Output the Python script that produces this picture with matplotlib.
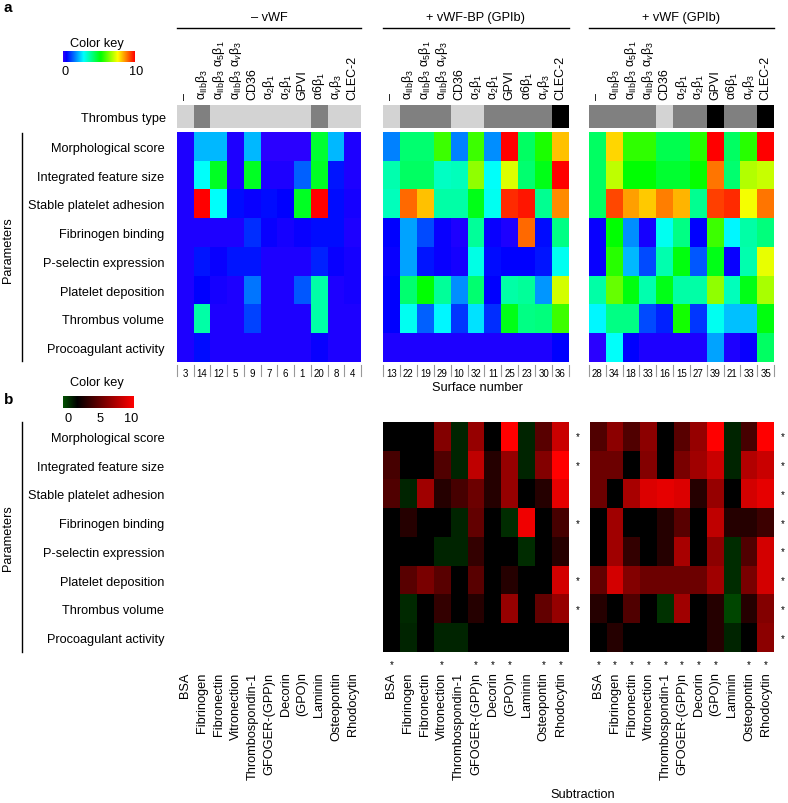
import matplotlib
matplotlib.use("Agg")
import matplotlib.pyplot as plt
import numpy as np
from matplotlib.colors import ListedColormap, LinearSegmentedColormap, hsv_to_rgb
from matplotlib.lines import Line2D

plt.rcParams["font.family"] = ["Liberation Sans", "DejaVu Sans"]
plt.rcParams["mathtext.fontset"] = "custom"
plt.rcParams["mathtext.rm"] = "Liberation Sans"
plt.rcParams["mathtext.it"] = "Liberation Sans:italic"
plt.rcParams["mathtext.bf"] = "Liberation Sans:bold"

# ---------------- data ----------------
params = ["Morphological score", "Integrated feature size", "Stable platelet adhesion",
          "Fibrinogen binding", "P-selectin expression", "Platelet deposition",
          "Thrombus volume", "Procoagulant activity"]
receptors = ["–", "α$_\\mathrm{IIb}$β$_3$", "α$_\\mathrm{IIb}$β$_3$ α$_5$β$_1$",
             "α$_\\mathrm{IIb}$β$_3$ α$_v$β$_3$", "CD36", "α$_2$β$_1$", "α$_2$β$_1$",
             "GPVI", "α6β$_1$", "α$_v$β$_3$", "CLEC-2"]
surfaces = ["BSA", "Fibrinogen", "Fibronectin", "Vitronection", "Thrombospondin-1",
            "GFOGER-(GPP)n", "Decorin", "(GPO)n", "Laminin", "Osteopontin", "Rhodocytin"]
headers = ["– vWF", "+ vWF-BP (GPIb)", "+ vWF (GPIb)"]

num_novwf = [3, 14, 12, 5, 9, 7, 6, 1, 20, 8, 4]
num_bp = [13, 22, 19, 29, 10, 32, 11, 25, 23, 30, 36]
num_vwf = [28, 34, 18, 33, 16, 15, 27, 39, 21, 33, 35]

# 0 = light, 1 = grey, 2 = black
type_novwf = [0, 1, 0, 0, 0, 0, 0, 0, 1, 0, 0]
type_bp = [0, 1, 1, 1, 0, 0, 1, 1, 1, 1, 2]
type_vwf = [1, 1, 1, 1, 0, 1, 1, 2, 1, 1, 2]

val_novwf = [
    [0.2, 2.2, 2.2, 0.2, 2.2, 0.1, 0.1, 0.1, 4.8, 2.2, 0.2],
    [0.2, 2.9, 4.9, 0.2, 4.9, 0.2, 0.2, 1.4, 4.9, 0.7, 0.2],
    [0.2, 10.0, 2.9, 0.6, 0.4, 0.6, 0.5, 4.9, 10.0, 0.6, 0.3],
    [0.2, 0.2, 0.2, 0.2, 0.9, 0.4, 0.3, 0.4, 0.6, 0.6, 0.2],
    [0.2, 0.7, 0.4, 0.7, 0.7, 0.2, 0.2, 0.2, 0.8, 0.4, 0.3],
    [0.2, 0.5, 0.3, 0.2, 1.6, 0.2, 0.2, 1.3, 3.7, 0.2, 0.3],
    [0.2, 3.7, 0.2, 0.2, 1.1, 0.2, 0.2, 0.2, 3.7, 0.2, 0.2],
    [0.2, 0.6, 0.2, 0.2, 0.2, 0.2, 0.2, 0.2, 0.4, 0.2, 0.2],
]
val_bp = [
    [1.7, 4.2, 4.2, 5.8, 1.7, 5.8, 1.8, 10.0, 4.3, 5.5, 8.2],
    [3.6, 4.3, 4.3, 3.4, 3.5, 6.6, 2.9, 7.3, 4.2, 5.0, 10.0],
    [3.5, 9.0, 8.2, 3.7, 3.7, 5.0, 3.0, 9.6, 9.8, 3.9, 8.7],
    [0.5, 2.0, 1.2, 0.4, 0.2, 3.8, 0.4, 0.2, 9.0, 0.6, 4.0],
    [0.4, 2.0, 0.7, 0.4, 0.3, 3.1, 0.6, 0.5, 0.5, 0.7, 3.0],
    [0.5, 4.2, 5.2, 3.8, 1.8, 4.2, 0.5, 3.7, 3.8, 1.9, 7.2],
    [0.5, 3.0, 1.4, 2.8, 1.0, 2.6, 0.9, 5.0, 4.0, 4.1, 5.8],
    [0.2, 0.2, 0.2, 0.2, 0.2, 0.2, 0.2, 0.2, 0.2, 0.2, 0.5],
]
val_vwf = [
    [4.3, 8.0, 5.7, 5.7, 4.5, 4.5, 5.6, 10.0, 4.3, 5.6, 10.0],
    [4.3, 7.0, 5.2, 5.2, 4.8, 4.8, 5.3, 8.9, 4.2, 6.9, 7.1],
    [4.3, 9.3, 8.5, 8.1, 8.8, 8.3, 3.9, 9.4, 9.6, 7.5, 8.9],
    [0.4, 5.2, 1.8, 0.3, 3.0, 4.0, 0.5, 5.8, 2.8, 3.7, 4.1],
    [0.4, 5.6, 2.2, 1.2, 3.6, 5.1, 1.3, 5.0, 0.4, 3.6, 7.4],
    [3.7, 6.2, 5.1, 3.6, 5.0, 3.7, 3.7, 6.6, 3.5, 5.0, 6.8],
    [2.8, 4.0, 4.0, 1.2, 0.8, 5.4, 1.0, 3.0, 2.3, 2.3, 5.1],
    [0.1, 2.9, 0.5, 0.2, 0.2, 0.2, 0.2, 2.0, 0.2, 0.4, 4.3],
]

sub_bp = [
    [2.0, 2.0, 2.0, 6.1, 1.1, 6.7, 2.0, 10.0, 1.1, 4.8, 8.3],
    [4.2, 2.0, 2.0, 4.5, 1.1, 8.0, 3.2, 6.7, 1.1, 6.1, 10.0],
    [4.5, 1.1, 7.0, 3.2, 4.2, 5.4, 3.2, 6.7, 2.0, 3.2, 9.2],
    [2.0, 3.2, 2.0, 2.0, 1.1, 5.1, 2.0, 0.9, 9.5, 2.0, 4.2],
    [2.0, 2.0, 2.0, 1.1, 1.1, 3.6, 2.0, 2.0, 0.9, 2.0, 3.2],
    [2.0, 4.8, 5.8, 4.8, 2.0, 4.8, 2.0, 3.2, 2.0, 2.0, 8.6],
    [2.0, 1.0, 2.0, 3.6, 2.0, 3.2, 2.0, 6.7, 2.0, 5.1, 6.7],
    [2.0, 1.1, 2.0, 1.1, 1.1, 2.0, 2.0, 2.0, 2.0, 2.0, 2.0],
]
sub_vwf = [
    [4.5, 6.4, 4.5, 6.4, 2.0, 4.8, 6.7, 10.0, 1.1, 4.2, 10.0],
    [5.4, 5.4, 2.0, 6.1, 2.0, 5.8, 7.0, 8.3, 1.1, 7.6, 8.3],
    [5.4, 2.0, 7.3, 8.9, 9.2, 8.9, 3.2, 6.7, 2.0, 8.6, 9.2],
    [2.0, 7.0, 2.0, 2.0, 3.2, 4.8, 2.0, 8.0, 3.2, 3.2, 3.9],
    [2.0, 7.0, 3.6, 2.0, 3.2, 7.3, 2.0, 6.4, 0.9, 4.5, 8.6],
    [5.1, 8.6, 6.1, 5.4, 5.4, 5.4, 5.4, 7.0, 0.9, 5.8, 8.6],
    [3.2, 2.0, 4.5, 2.0, 0.8, 7.0, 2.0, 3.2, 0.3, 3.2, 6.1],
    [2.0, 3.2, 2.0, 2.0, 2.0, 2.0, 2.0, 3.2, 1.1, 2.0, 6.4],
]

row_star_bp = [1, 1, 0, 1, 0, 1, 1, 0]
row_star_vwf = [1, 1, 1, 1, 1, 1, 1, 1]
col_star_bp = [1, 0, 0, 1, 0, 1, 1, 1, 0, 1, 1]
col_star_vwf = [1, 1, 1, 1, 1, 1, 1, 1, 0, 1, 1]

# ---------------- layout helpers (pixels) ----------------
W, H = 788, 804
fig = plt.figure(figsize=(W / 100, H / 100), dpi=100)
fig.patch.set_facecolor("white")


def box(x0, y0, x1, y1):
    return [x0 / W, 1 - y1 / H, (x1 - x0) / W, (y1 - y0) / H]


def ftext(x, y, s, **kw):
    fig.text(x / W, 1 - y / H, s, **kw)


def fline(xs, ys, **kw):
    fig.add_artist(Line2D([x / W for x in xs], [1 - y / H for y in ys],
                          transform=fig.transFigure, **kw))


hues = np.linspace(0.7, 0.0, 256)
rainbow = ListedColormap(hsv_to_rgb(np.stack([hues, np.ones(256), np.ones(256)], axis=1)))
gkr = LinearSegmentedColormap.from_list("gkr", [(0, (0, 0.32, 0)), (0.2, (0, 0, 0)), (1, (1, 0, 0))])
type_cmap = ListedColormap(["#d3d3d3", "#808080", "#000000"])

FS = 9.2
xs_a = [(177, 361), (383, 569), (589, 774)]
xs_b = [(383, 569), (590, 774)]
A_TOP, A_BOT = 133, 363
B_TOP, B_BOT = 423, 653


def heat(x0, x1, y0, y1, data, cmap):
    ax = fig.add_axes(box(x0, y0, x1, y1))
    ax.imshow(np.array(data), cmap=cmap, vmin=0, vmax=10, aspect="auto", interpolation="nearest")
    ax.set_xticks([])
    ax.set_yticks([])
    for s in ax.spines.values():
        s.set_visible(False)
    return ax


# ---------------- panel a ----------------
ftext(4, 8, "a", fontsize=11, fontweight="bold", va="center", ha="left")

vals_a = [val_novwf, val_bp, val_vwf]
types_a = [type_novwf, type_bp, type_vwf]
nums_a = [num_novwf, num_bp, num_vwf]
for k, (x0, x1) in enumerate(xs_a):
    ftext((x0 + x1) / 2, 18, headers[k], fontsize=FS, ha="center", va="center")
    fline([x0, x1], [29, 29], color="black", lw=1)

    bar = fig.add_axes(box(x0, 106, x1, 129))
    bar.imshow(np.array([types_a[k]]), cmap=type_cmap, vmin=0, vmax=2, aspect="auto",
               interpolation="nearest")
    bar.xaxis.tick_top()
    bar.set_xticks(range(11))
    bar.set_xticklabels(receptors, rotation=90, fontsize=9)
    bar.tick_params(axis="x", length=0, pad=4)
    bar.set_yticks([])
    for s in bar.spines.values():
        s.set_visible(False)
    if k == 0:
        bar.set_yticks([0])
        bar.set_yticklabels(["Thrombus type"], fontsize=FS)
        bar.tick_params(axis="y", length=0, pad=8)

    ax = heat(x0, x1, A_TOP, A_BOT, vals_a[k], rainbow)
    ax.set_xticks(range(11))
    ax.set_xticklabels([str(n) for n in nums_a[k]], fontsize=7)
    ax.tick_params(axis="x", length=0, pad=4)
    for e in np.arange(-0.5, 11, 1):
        ax.plot([e, e], [7.62, 8.0], color="#999999", lw=0.8, clip_on=False)
    ax.set_xlim(-0.5, 10.5)
    ax.set_ylim(7.5, -0.5)
    if k == 0:
        ax.set_yticks(range(8))
        ax.set_yticklabels(params, fontsize=FS)
        ax.tick_params(axis="y", length=0, pad=9)

ftext(477, 388, "Surface number", fontsize=FS, ha="center", va="center")

# colour key a
ftext(97, 44, "Color key", fontsize=FS, ha="center", va="center")
cka = fig.add_axes(box(63, 52, 135, 63))
cka.imshow(np.linspace(0, 10, 256)[None, :], cmap=rainbow, aspect="auto")
cka.axis("off")
ftext(65, 72, "0", fontsize=FS, ha="center", va="center")
ftext(136, 72, "10", fontsize=FS, ha="center", va="center")

ftext(8, 250, "Parameters", fontsize=FS, rotation=90, ha="center", va="center")
fline([22, 22], [134, 362], color="black", lw=1)

# ---------------- panel b ----------------
ftext(4, 400, "b", fontsize=11, fontweight="bold", va="center", ha="left")

ftext(97, 383, "Color key", fontsize=FS, ha="center", va="center")
ckb = fig.add_axes(box(63, 397, 134, 409))
ckb.imshow(np.linspace(0, 10, 256)[None, :], cmap=gkr, aspect="auto")
ckb.axis("off")
ftext(68, 419, "0", fontsize=FS, ha="center", va="center")
ftext(100, 419, "5", fontsize=FS, ha="center", va="center")
ftext(131, 419, "10", fontsize=FS, ha="center", va="center")

ftext(8, 538, "Parameters", fontsize=FS, rotation=90, ha="center", va="center")
fline([22, 22], [423, 653], color="black", lw=1)

# empty left slot: carries row labels and surface names
blank = fig.add_axes(box(177, B_TOP, 361, B_BOT))
blank.set_xlim(-0.5, 10.5)
blank.set_ylim(7.5, -0.5)
blank.set_frame_on(False)
blank.set_yticks(range(8))
blank.set_yticklabels(params, fontsize=FS)
blank.set_xticks(range(11))
blank.set_xticklabels(surfaces, rotation=90, fontsize=FS, va="top")
blank.tick_params(length=0)
blank.tick_params(axis="y", pad=9)
blank.tick_params(axis="x", pad=14)

subs = [sub_bp, sub_vwf]
row_stars = [row_star_bp, row_star_vwf]
col_stars = [col_star_bp, col_star_vwf]
for k, (x0, x1) in enumerate(xs_b):
    ax = heat(x0, x1, B_TOP, B_BOT, subs[k], gkr)
    ax.set_xticks(range(11))
    ax.set_xticklabels(surfaces, rotation=90, fontsize=FS, va="top")
    ax.tick_params(axis="x", length=0, pad=14)
    for i, s in enumerate(row_stars[k]):
        if s:
            ax.text(10.5 + 0.5, i, "*", fontsize=7, ha="center", va="center", clip_on=False)
    for j, s in enumerate(col_stars[k]):
        if s:
            ax.text(j, 7.5 + 0.42, "*", fontsize=7, ha="center", va="center", clip_on=False)

ftext(583, 795, "Subtraction", fontsize=FS, ha="center", va="center")

fig.savefig("out.png", dpi=100, facecolor="white")
